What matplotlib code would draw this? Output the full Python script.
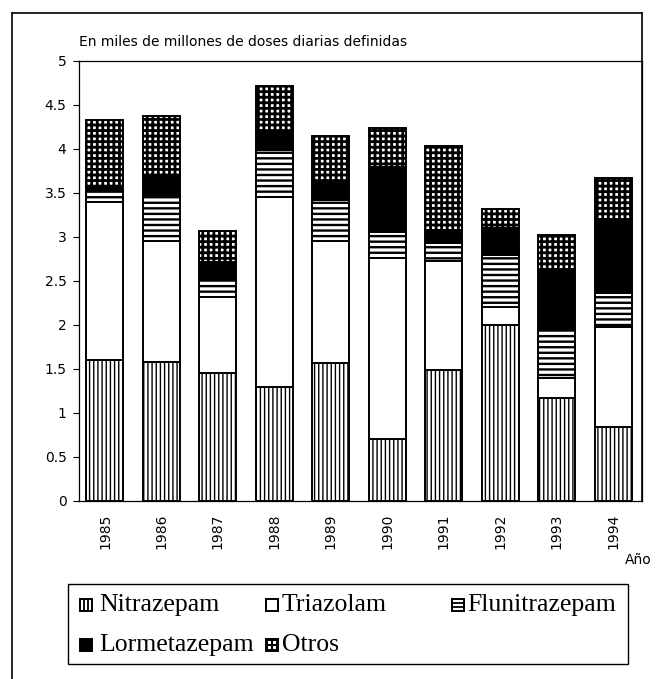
import matplotlib
matplotlib.use("Agg")
import matplotlib.pyplot as plt
from matplotlib.patches import Rectangle
from matplotlib.lines import Line2D
import numpy as np

# Consumo de benzodiacepinas hipnóticas, en miles de millones de DDD
years = ["1985", "1986", "1987", "1988", "1989", "1990", "1991", "1992", "1993", "1994"]
nitrazepam = [1.60, 1.58, 1.46, 1.30, 1.565, 0.71, 1.49, 2.00, 1.17, 0.84]
triazolam = [1.80, 1.37, 0.86, 2.16, 1.39, 2.05, 1.24, 0.20, 0.23, 1.14]
flunitrazepam = [0.13, 0.53, 0.19, 0.53, 0.465, 0.30, 0.205, 0.595, 0.54, 0.38]
lormetazepam = [0.05, 0.22, 0.21, 0.21, 0.19, 0.74, 0.145, 0.305, 0.68, 0.83]
otros = [0.75, 0.67, 0.35, 0.52, 0.54, 0.435, 0.95, 0.215, 0.40, 0.48]
yticks = [0, 0.5, 1, 1.5, 2, 2.5, 3, 3.5, 4, 4.5, 5]
ytick_labels = ["0", "0.5", "1", "1.5", "2", "2.5", "3", "3.5", "4", "4.5", "5"]

# fill style per series: face colour, hatch pattern, hatch line width
series = [
    ("Nitrazepam", nitrazepam, "white", "||||", 1.0),
    ("Triazolam", triazolam, "white", "", 1.0),
    ("Flunitrazepam", flunitrazepam, "white", "---", 1.7),
    ("Lormetazepam", lormetazepam, "black", "", 1.0),
    ("Otros", otros, "white", "+++", 2.0),
]

plt.rcParams["hatch.color"] = "black"

W, H = 657, 679
fig = plt.figure(figsize=(W / 100, H / 100), dpi=100)
fig.patch.set_facecolor("white")


def fx(px):
    return px / W


def fy(py):
    return 1 - py / H


ax_left, ax_right, ax_top, ax_bottom = 79, 642, 61, 501
ax = fig.add_axes([fx(ax_left), fy(ax_bottom), (ax_right - ax_left) / W, (ax_bottom - ax_top) / H])

x = np.arange(len(years))
bottom = np.zeros(len(years))
for name, vals, fc, hatch, hlw in series:
    vals = np.array(vals)
    plt.rcParams["hatch.linewidth"] = hlw
    bars = ax.bar(x, vals, width=0.655, bottom=bottom, facecolor=fc, hatch=hatch,
                  edgecolor="black", linewidth=1.4, label=name)
    for b in bars:
        if hasattr(b, "set_hatch_linewidth"):
            b.set_hatch_linewidth(hlw)
    bottom += vals

ax.set_xlim(-0.46, 9.51)
ax.set_ylim(0, 5)
ax.set_yticks(yticks)
ax.set_yticklabels(ytick_labels, fontfamily="DejaVu Sans", fontsize=10)
ax.set_xticks(x)
ax.set_xticklabels(years, rotation=90, fontfamily="DejaVu Sans", fontsize=10)
ax.tick_params(axis="y", direction="out", length=4, width=0.8, pad=5)
ax.tick_params(axis="x", length=0, pad=9)
for s in ax.spines.values():
    s.set_color("black")
    s.set_linewidth(0.9)

# Outer frame of the figure
frame_kw = dict(transform=fig.transFigure, color="black", linewidth=1.2)
fig.add_artist(Line2D([fx(12), fx(642)], [fy(13), fy(13)], **frame_kw))
fig.add_artist(Line2D([fx(12), fx(12)], [fy(13), fy(679)], **frame_kw))
fig.add_artist(Line2D([fx(642), fx(642)], [fy(13), fy(501)], **frame_kw))

fig.text(fx(79), fy(42), "En miles de millones de doses diarias definidas",
         fontfamily="DejaVu Sans", fontsize=10, va="center", ha="left")
fig.text(fx(638), fy(560), "Año", fontfamily="DejaVu Sans", fontsize=10, va="center", ha="center")

# Legend drawn as a boxed block with two rows
fig.add_artist(Rectangle((fx(68), fy(664)), (628 - 68) / W, (664 - 584) / H,
                         transform=fig.transFigure, facecolor="white", edgecolor="black", linewidth=1.0))
entries = [
    ("Nitrazepam", 80, 99, 605),
    ("Triazolam", 266, 282, 605),
    ("Flunitrazepam", 452, 467, 605),
    ("Lormetazepam", 80, 99, 645),
    ("Otros", 266, 282, 645),
]
sz = 12
lk = dict(transform=fig.transFigure, color="black", linewidth=1.3)
for name, ix, tx, ry in entries:
    x0, x1 = ix, ix + sz
    y0, y1 = ry - sz / 2, ry + sz / 2
    face = "black" if name in ("Lormetazepam", "Otros") else "white"
    fig.add_artist(Rectangle((fx(x0), fy(y1)), sz / W, sz / H, transform=fig.transFigure,
                             facecolor=face, edgecolor="black", linewidth=1.4))
    if name == "Nitrazepam":
        for xx in (x0 + sz / 3, x0 + 2 * sz / 3):
            fig.add_artist(Line2D([fx(xx), fx(xx)], [fy(y0), fy(y1)], **lk))
    elif name == "Flunitrazepam":
        for yy in (y0 + sz / 3, y0 + 2 * sz / 3):
            fig.add_artist(Line2D([fx(x0), fx(x1)], [fy(yy), fy(yy)], **lk))
    elif name == "Otros":
        q = 3.2
        for cx in (x0 + sz * 0.28, x0 + sz * 0.72):
            for cy in (y0 + sz * 0.28, y0 + sz * 0.72):
                fig.add_artist(Rectangle((fx(cx - q / 2), fy(cy + q / 2)), q / W, q / H,
                                         transform=fig.transFigure, facecolor="white",
                                         edgecolor="none"))
    fig.text(fx(tx), fy(ry), name, fontfamily="Liberation Serif", fontsize=18.5, va="center", ha="left")

fig.savefig("out.png", dpi=100, facecolor="white")
